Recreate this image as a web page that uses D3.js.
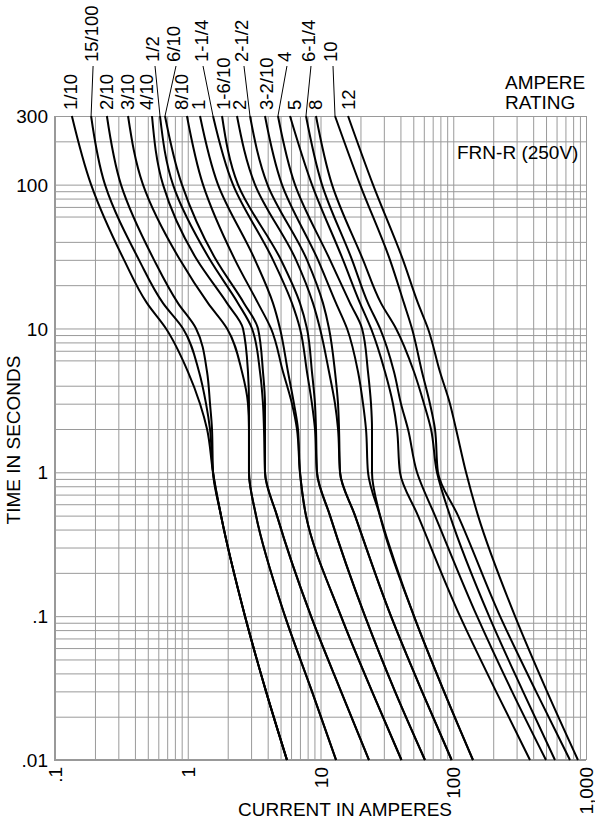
<!DOCTYPE html>
<html><head><meta charset="utf-8">
<script src="https://cdn.jsdelivr.net/npm/d3@7"></script>
<style>
body{margin:0;background:#fff}
svg text{font-family:"Liberation Sans",Arial,Helvetica,sans-serif;fill:#000}
</style>
</head><body>
<svg id="chart" width="595" height="822"></svg>
<script>
// ---------- data (current in amperes at each time in seconds) ----------
const times = [300, 100, 30, 15, 10, 5, 3, 2, 1, 0.5, 0.1, 0.03, 0.01];
const ratings = ["1/10","15/100","2/10","3/10","4/10","1/2","6/10","8/10","1","1-1/4","1-6/10","2","2-1/2","3-2/10","4","5","6-1/4","8","10","12"];
const amps_1_10   = [0.134, 0.187, 0.331, 0.493, 0.685, 1.004, 1.237, 1.397, 1.550, 1.781, 2.699, 3.887, 5.590];
const amps_15_100 = [0.187, 0.238, 0.429, 0.651, 0.920, 1.216, 1.373, 1.471, 1.550, 1.781, 2.699, 3.887, 5.590];
const amps_2_10   = [0.246, 0.314, 0.557, 0.844, 1.154, 1.397, 1.471, 1.523, 1.550, 1.781, 2.699, 3.887, 5.590];
const amps_3_10   = [0.355, 0.460, 0.874, 1.421, 1.976, 2.561, 2.842, 2.892, 2.892, 3.268, 5.401, 8.622, 13.09];
const amps_4_10   = [0.538, 0.651, 1.174, 1.976, 2.606, 2.842, 2.892, 2.892, 2.892, 3.268, 5.401, 8.622, 13.09];
const amps_1_2    = [0.618, 0.774, 1.471, 2.390, 3.047, 3.501, 3.687, 3.752, 3.818, 4.699, 8.480, 14.27, 23.19];
const amps_6_10   = [0.674, 0.904, 1.633, 2.652, 3.381, 3.687, 3.818, 3.818, 3.818, 4.699, 8.480, 14.27, 23.19];
const amps_8_10   = [0.986, 1.303, 2.269, 3.381, 4.235, 5.216, 6.095, 6.648, 7.004, 7.775, 14.27, 24.43, 40.73];
const amps_1      = [1.237, 1.690, 3.210, 4.385, 4.952, 5.688, 6.311, 6.765, 7.004, 7.775, 14.27, 24.43, 40.73];
const amps_1_1_4  = [1.550, 2.192, 4.385, 6.095, 7.004, 7.906, 8.622, 9.084, 9.403, 11.79, 21.63, 36.39, 61.22];
const amps_1_6_10 = [1.812, 2.390, 5.037, 7.004, 7.906, 8.622, 9.084, 9.248, 9.403, 11.79, 21.63, 36.39, 61.22];
const amps_2      = [2.349, 3.210, 6.537, 8.774, 9.907, 11.59, 12.86, 13.55, 14.03, 18.20, 33.95, 58.12, 97.26];
const amps_2_1_2  = [2.943, 3.985, 7.906, 10.44, 11.59, 12.86, 13.55, 13.79, 14.03, 18.20, 33.95, 58.12, 97.26];
const amps_3_2_10 = [3.818, 5.126, 9.568, 13.09, 15.84, 19.17, 20.91, 22.01, 22.79, 28.06, 50.59, 85.11, 140.8];
const amps_4      = [4.782, 6.422, 11.79, 16.69, 20.55, 22.79, 24.01, 24.43, 24.43, 28.06, 50.59, 85.11, 140.8];
const amps_5      = [5.890, 8.622, 14.78, 19.85, 24.01, 30.60, 35.15, 37.68, 39.69, 54.23, 112.4, 210.0, 378.5];
const amps_6_1_4  = [7.775, 10.26, 17.28, 22.79, 28.06, 35.77, 40.38, 45.59, 53.30, 72.81, 151.0, 276.9, 499.4];
const amps_8      = [9.248, 12.21, 20.91, 28.55, 37.03, 50.59, 60.18, 67.94, 75.37, 94.44, 186.0, 335.1, 583.9];
const amps_10     = [12.86, 19.85, 33.37, 42.54, 48.86, 58.12, 66.77, 72.81, 76.69, 108.6, 225.0, 419.9, 757.2];
const amps_12     = [16.12, 24.85, 41.80, 54.23, 64.49, 79.41, 94.44, 104.9, 124.8, 153.7, 291.8, 508.0, 869.7];
const curveAmps = [amps_1_10, amps_15_100, amps_2_10, amps_3_10, amps_4_10, amps_1_2, amps_6_10, amps_8_10, amps_1,
  amps_1_1_4, amps_1_6_10, amps_2, amps_2_1_2, amps_3_2_10, amps_4, amps_5, amps_6_1_4, amps_8, amps_10, amps_12];

const xTicks = [0.1, 1, 10, 100, 1000];
const xTickLabels = [".1", "1", "10", "100", "1,000"];
const yTicks = [0.01, 0.1, 1, 10, 100, 300];
const yTickLabels = [".01", ".1", "1", "10", "100", "300"];

// ---------- layout ----------
const L = 55, R = 586, T = 116, B = 760;
const labelHigh = [false,true,false,false,false,true,true,false,false,true,false,false,true,false,true,false,true,false,true,false];
const labelDx   = [-1,0,0,-1,-5,-7,9,-5,-1,-12,1,3,-8,2,7,5,3,0,-4,0];

const svg = d3.select("#chart");
const x = d3.scaleLog().domain([0.1, 1000]).range([L, R]);
const y = d3.scaleLog().domain([0.01, 300]).range([B, T]);

const gridX = [];
[0.1, 1, 10, 100].forEach(d => { for (let k = 1; k <= 9; k++) gridX.push(+(k * d).toPrecision(3)); });
gridX.push(1000);
const gridY = [];
[0.01, 0.1, 1, 10].forEach(d => { for (let k = 1; k <= 9; k++) if (!(k === 5 && d >= 1)) gridY.push(+(k * d).toPrecision(3)); });
gridY.push(100, 200, 300);

const gGridX = svg.append("g").attr("transform", `translate(0,${B})`)
  .call(d3.axisBottom(x).tickValues(gridX).tickSize(-(B - T)).tickFormat(""));
gGridX.select(".domain").remove();
gGridX.selectAll("line").attr("stroke", "#9a9a9a").attr("stroke-width", 1);

const gGridY = svg.append("g").attr("transform", `translate(${L},0)`)
  .call(d3.axisLeft(y).tickValues(gridY).tickSize(-(R - L)).tickFormat(""));
gGridY.select(".domain").remove();
gGridY.selectAll("line").attr("stroke", "#9a9a9a").attr("stroke-width", 1);

svg.append("line").attr("x1", L).attr("x2", L).attr("y1", T).attr("y2", B + 1).attr("stroke", "#999").attr("stroke-width", 2);
svg.append("line").attr("x1", L - 1).attr("x2", R).attr("y1", B).attr("y2", B).attr("stroke", "#999").attr("stroke-width", 2);

const gx = svg.append("g").attr("transform", `translate(0,${B})`)
  .call(d3.axisBottom(x).tickValues(xTicks).tickFormat((d, i) => xTickLabels[i]).tickSize(0));
gx.select(".domain").remove();
gx.attr("font-size", null).attr("font-family", null);
gx.selectAll("text").attr("transform", "rotate(-90)").attr("text-anchor", "end")
  .attr("x", -7).attr("y", 0).attr("dy", "0.35em").style("font-size", "19px");

const gy = svg.append("g").attr("transform", `translate(${L},0)`)
  .call(d3.axisLeft(y).tickValues(yTicks).tickFormat((d, i) => yTickLabels[i]).tickSize(0).tickPadding(7));
gy.select(".domain").remove();
gy.attr("font-size", null).attr("font-family", null);
gy.selectAll("text").attr("dy", "0.35em").style("font-size", "19px");

svg.append("text").attr("x", 345).attr("y", 816).attr("text-anchor", "middle").style("font-size", "19px").text("CURRENT IN AMPERES");
svg.append("text").attr("transform", "translate(20,440) rotate(-90)").attr("text-anchor", "middle").style("font-size", "19px").text("TIME IN SECONDS");

svg.append("text").attr("x", 505).attr("y", 89).style("font-size", "19px").text("AMPERE");
svg.append("text").attr("x", 505).attr("y", 108.5).style("font-size", "19px").text("RATING");
svg.append("text").attr("x", 457).attr("y", 159).style("font-size", "19px").text("FRN-R (250V)");

const line = d3.line().x(d => x(d[0])).y(d => y(d[1])).curve(d3.curveMonotoneY);
curveAmps.forEach((amps) => {
  const pts = amps.map((a, i) => [a, times[i]]);
  svg.append("path").attr("d", line(pts)).attr("fill", "none").attr("stroke", "#000").attr("stroke-width", 2);
});

curveAmps.forEach((amps, i) => {
  const cx = x(amps[0]) + labelDx[i];
  const yb = labelHigh[i] ? 62 : 110;
  svg.append("text").attr("transform", `translate(${cx},${yb}) rotate(-90)`)
    .attr("text-anchor", "start").attr("dy", "0.35em").style("font-size", "18.5px").text(ratings[i]);
  if (labelHigh[i]) {
    svg.append("line").attr("x1", cx + 2).attr("y1", 66).attr("x2", x(amps[0])).attr("y2", y(times[0]))
      .attr("stroke", "#000").attr("stroke-width", 1);
  }
});
</script>
</body></html>
